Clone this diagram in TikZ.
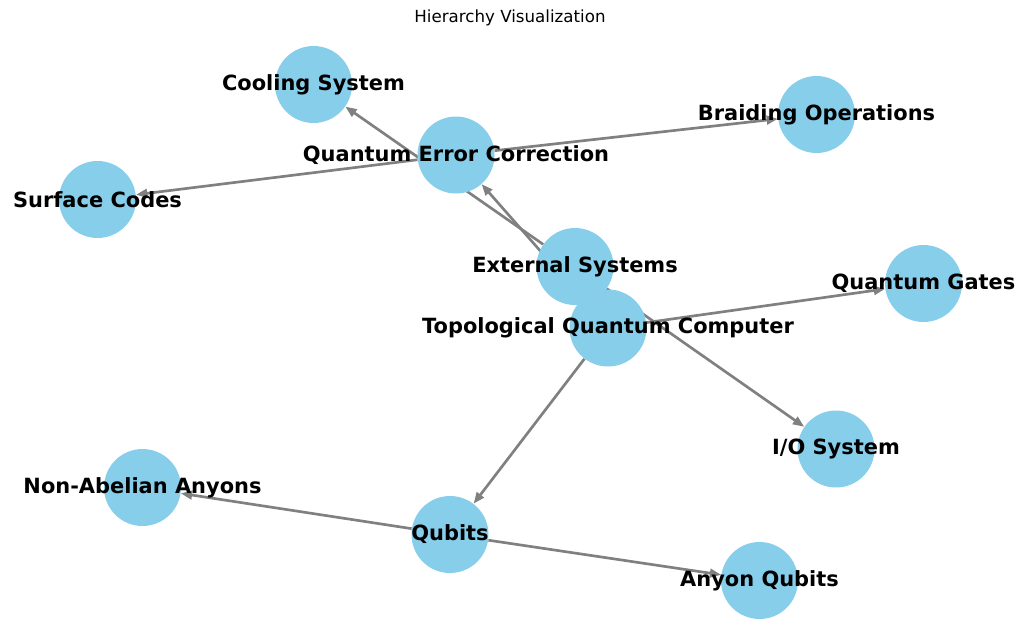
\documentclass[tikz,border=0pt]{standalone}
\usepackage{fontspec}
\setmainfont{DejaVu Sans}
\usetikzlibrary{arrows.meta}
\definecolor{nodeblue}{RGB}{135,206,235}
\definecolor{edgegray}{RGB}{128,128,128}
\pgfdeclarelayer{edgelayer}
\pgfdeclarelayer{labellayer}
\pgfsetlayers{edgelayer,main,labellayer}
\tikzset{
  gnode/.style={circle, fill=nodeblue, draw=none, minimum size=57.75pt, inner sep=0pt},
  glabel/.style={font=\fontsize{15.7}{18}\selectfont\bfseries, text=black, inner sep=0pt},
  gedge/.style={draw=edgegray, line width=2pt, -{Triangle[length=8.5pt,width=6.5pt]}},
}
\begin{document}
\begin{tikzpicture}[x=0.75pt,y=-0.75pt]
\useasboundingbox (0,0) rectangle (1019,642);
\node[font=\fontsize{12.5}{14}\selectfont] (title) at (510,18) {Hierarchy Visualization};
% nodes
\node[gnode] (cool) at (313.5,84.5) {};
\node[gnode] (braid) at (816.5,114.5) {};
\node[gnode] (qec) at (456,155) {};
\node[gnode] (surf) at (97.5,199.5) {};
\node[gnode] (ext) at (575,266.5) {};
\node[gnode] (gates) at (923.5,283.5) {};
\node[gnode] (topo) at (608,328) {};
\node[gnode] (io) at (836,449) {};
\node[gnode] (nonab) at (142.5,487.5) {};
\node[gnode] (qubits) at (450,534.5) {};
\node[gnode] (anyon) at (759.5,580.5) {};
% edges
\begin{pgfonlayer}{edgelayer}
\draw[gedge] (ext) -- (cool);
\draw[gedge] (ext) -- (io);
\draw[gedge] (topo) -- (qec);
\draw[gedge] (qec) -- (braid);
\draw[gedge] (qec) -- (surf);
\draw[gedge] (topo) -- (gates);
\draw[gedge] (topo) -- (qubits);
\draw[gedge] (qubits) -- (nonab);
\draw[gedge] (qubits) -- (anyon);
\end{pgfonlayer}
% labels
\begin{pgfonlayer}{labellayer}
\node[glabel] (lcool) at (cool) {Cooling System};
\node[glabel] (lbraid) at (braid) {Braiding Operations};
\node[glabel] (lqec) at (qec) {Quantum Error Correction};
\node[glabel] (lsurf) at (surf) {Surface Codes};
\node[glabel] (lext) at (ext) {External Systems};
\node[glabel] (lgates) at (gates) {Quantum Gates};
\node[glabel] (ltopo) at (topo) {Topological Quantum Computer};
\node[glabel] (lio) at (io) {I/O System};
\node[glabel] (lnonab) at (nonab) {Non-Abelian Anyons};
\node[glabel] (lqubits) at (qubits) {Qubits};
\node[glabel] (lanyon) at (anyon) {Anyon Qubits};
\end{pgfonlayer}
\end{tikzpicture}
\end{document}
